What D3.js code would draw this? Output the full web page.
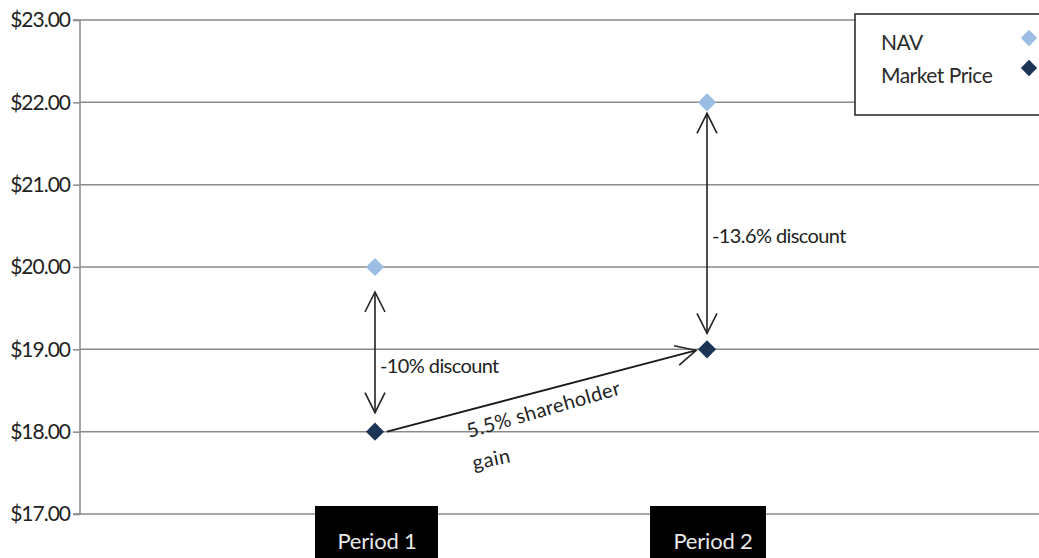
<!DOCTYPE html>
<html>
<head>
<meta charset="utf-8">
<script src="https://cdn.jsdelivr.net/npm/d3@7"></script>
<style>
  html, body { margin: 0; padding: 0; background: #fff; }
  svg { display: block; }
  text { font-family: Lato, "Open Sans", sans-serif; }
</style>
</head>
<body>
<svg id="chart" width="1039" height="558"></svg>
<script>
// Series values per period
const categories = ["Period 1", "Period 2"];
const navValues = [20, 22];
const marketValues = [18, 19];
const yTickValues = [17, 18, 19, 20, 21, 22, 23];
const seriesNames = ["NAV", "Market Price"];
const discountLabels = ["-10% discount", "-13.6% discount"];
const gainLabel = ["5.5% shareholder", "gain"];

const navColor = "#9cbde3";
const marketColor = "#1c3557";

const svg = d3.select("#chart");
const W = 1039;
const plotLeft = 80, plotTop = 20, plotBottom = 514;

const y = d3.scaleLinear().domain([17, 23]).range([plotBottom, plotTop]);
const x = d3.scalePoint().domain(categories).range([375, 707]);

// Arrow marker (open V)
const defs = svg.append("defs");
defs.append("marker")
  .attr("id", "arrow")
  .attr("viewBox", "0 0 24 24")
  .attr("refX", 22).attr("refY", 12)
  .attr("markerWidth", 24).attr("markerHeight", 24)
  .attr("markerUnits", "userSpaceOnUse")
  .attr("orient", "auto-start-reverse")
  .append("path")
  .attr("d", "M2,2 L22,12 L2,22")
  .attr("fill", "none")
  .attr("stroke", "#222")
  .attr("stroke-width", 1.6);

// Gridlines
svg.append("g").selectAll("line")
  .data(yTickValues)
  .join("line")
  .attr("x1", plotLeft).attr("x2", W)
  .attr("y1", d => y(d)).attr("y2", d => y(d))
  .attr("stroke", "#8a8a8a").attr("stroke-width", 1.5);

// Y axis
const yAxis = d3.axisLeft(y)
  .tickValues(yTickValues)
  .tickFormat(d => "$" + d3.format(".2f")(d))
  .tickSize(7).tickPadding(3);
const ag = svg.append("g").attr("transform", `translate(${plotLeft},0)`).call(yAxis);
ag.select(".domain").attr("stroke", "#8a8a8a").attr("stroke-width", 1.5).attr("d", `M-7,${plotTop}H0V${plotBottom}H-7`);
ag.selectAll(".tick line").attr("stroke", "#8a8a8a").attr("stroke-width", 1.5);
ag.selectAll(".tick text").attr("fill", "#222").style("font-size", "21px")
  .style("font-family", "Lato, sans-serif").style("letter-spacing", "-1px");

// Category labels in black boxes
const boxL = [-60, -57], boxR = [63, 59], textDx = [2, 6];
const cat = svg.append("g").selectAll("g")
  .data(categories)
  .join("g")
  .attr("transform", d => `translate(${x(d)},0)`);
cat.append("rect")
  .attr("x", (d, i) => boxL[i]).attr("y", 506)
  .attr("width", (d, i) => boxR[i] - boxL[i]).attr("height", 60)
  .attr("fill", "#000");
cat.append("text")
  .attr("x", (d, i) => textDx[i]).attr("y", 549)
  .attr("text-anchor", "middle")
  .attr("fill", "#e8e8e8")
  .style("font-size", "22px")
  .style("letter-spacing", "-0.2px")
  .text(d => d);

// Vertical discount arrows
const arrows = svg.append("g");
const gapTop = [25, 11], gapBottom = [19, 16], labelDy = [23.5, 17.5];
categories.forEach((c, i) => {
  arrows.append("line")
    .attr("x1", x(c)).attr("x2", x(c))
    .attr("y1", y(navValues[i]) + gapTop[i])
    .attr("y2", y(marketValues[i]) - gapBottom[i])
    .attr("stroke", "#222").attr("stroke-width", 1.6)
    .attr("marker-start", "url(#arrow)")
    .attr("marker-end", "url(#arrow)");
  arrows.append("text")
    .attr("x", x(c) + 5)
    .attr("y", (y(navValues[i]) + y(marketValues[i])) / 2 + labelDy[i])
    .attr("fill", "#222")
    .style("font-size", "20px")
    .style("letter-spacing", "-0.6px")
    .text(discountLabels[i]);
});

// Market price gain arrow
const gx0 = x(categories[0]) + 12, gy0 = y(marketValues[0]);
const gx1 = x(categories[1]) - 11, gy1 = y(marketValues[1]) + 1;
arrows.append("line")
  .attr("x1", gx0).attr("y1", gy0).attr("x2", gx1).attr("y2", gy1)
  .attr("stroke", "#1a1a1a").attr("stroke-width", 1.9)
  .attr("marker-end", "url(#arrow)");
arrows.append("text")
  .attr("transform", "translate(469,438) rotate(-16)")
  .attr("fill", "#222").style("font-size", "20px").style("letter-spacing", "0.4px")
  .text(gainLabel[0]);
arrows.append("text")
  .attr("transform", "translate(474,470) rotate(-12)")
  .attr("fill", "#222").style("font-size", "20px").style("letter-spacing", "0.6px")
  .text(gainLabel[1]);

// Diamond markers
const diamond = d3.symbol().type(d3.symbolDiamond2).size(210);
const pts = svg.append("g");
pts.selectAll(".nav")
  .data(categories)
  .join("path")
  .attr("class", "nav")
  .attr("d", diamond)
  .attr("transform", (d, i) => `translate(${x(d)},${y(navValues[i])})`)
  .attr("fill", navColor);
pts.selectAll(".mkt")
  .data(categories)
  .join("path")
  .attr("class", "mkt")
  .attr("d", diamond)
  .attr("transform", (d, i) => `translate(${x(d)},${y(marketValues[i])})`)
  .attr("fill", marketColor);

// Legend
const lg = svg.append("g");
lg.append("rect")
  .attr("x", 855).attr("y", 14).attr("width", 200).attr("height", 101)
  .attr("fill", "#fff").attr("stroke", "#222").attr("stroke-width", 1.5);
const lcolors = [navColor, marketColor];
seriesNames.forEach((n, i) => {
  lg.append("text")
    .attr("x", 881).attr("y", 50 + i * 33)
    .attr("fill", "#2a2a2a").style("font-size", "21px").style("letter-spacing", "-0.5px")
    .text(n);
  lg.append("path")
    .attr("d", d3.symbol().type(d3.symbolDiamond2).size(170))
    .attr("transform", `translate(1029,${38 + i * 30})`)
    .attr("fill", lcolors[i]);
});
</script>
</body>
</html>
